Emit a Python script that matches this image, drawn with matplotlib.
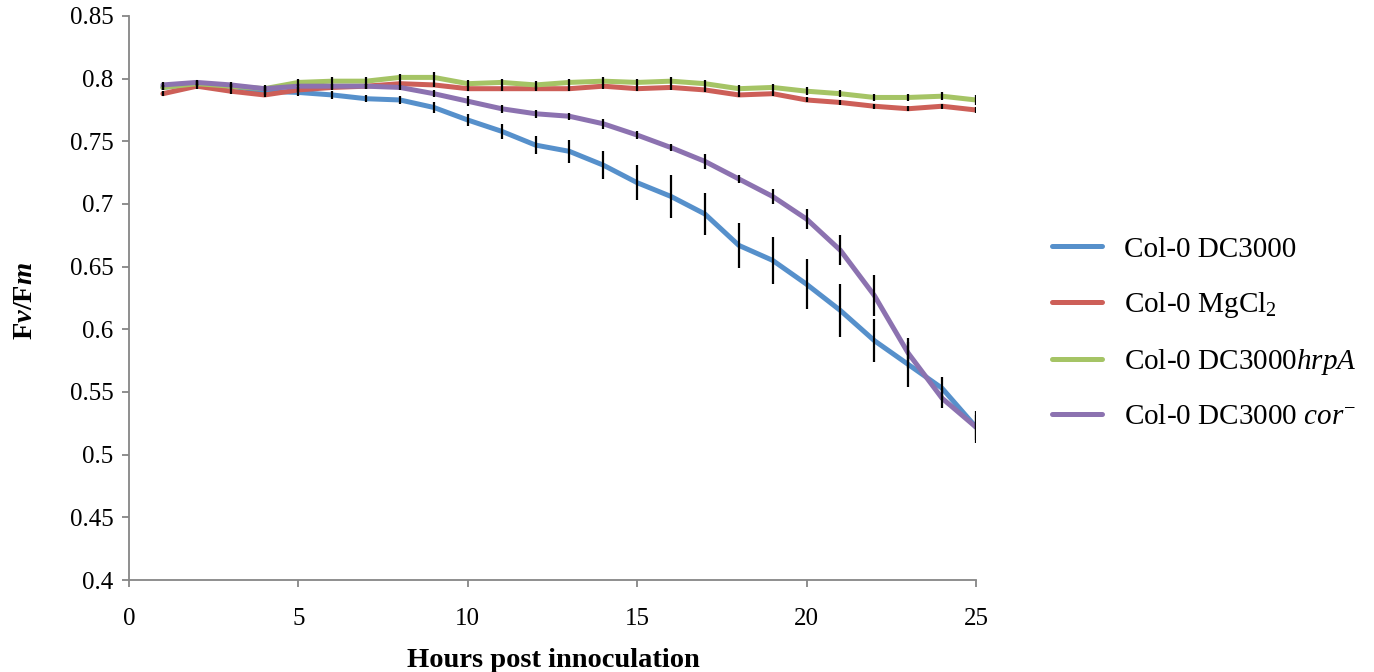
import matplotlib
matplotlib.use("Agg")
import matplotlib.pyplot as plt
from matplotlib.ticker import FuncFormatter, MultipleLocator

# data
hours = list(range(1, 26))
dc3000 = [0.793, 0.796, 0.794, 0.790, 0.789, 0.787, 0.784, 0.783, 0.777, 0.767,
          0.758, 0.747, 0.742, 0.731, 0.717, 0.706, 0.692, 0.667, 0.655, 0.636,
          0.615, 0.591, 0.572, 0.553, 0.522]
mgcl2 = [0.788, 0.794, 0.790, 0.787, 0.791, 0.793, 0.794, 0.796, 0.795, 0.792,
         0.792, 0.792, 0.792, 0.794, 0.792, 0.793, 0.791, 0.787, 0.788, 0.783,
         0.781, 0.778, 0.776, 0.778, 0.775]
hrpa = [0.793, 0.796, 0.794, 0.792, 0.797, 0.798, 0.798, 0.801, 0.801, 0.796,
        0.797, 0.795, 0.797, 0.798, 0.797, 0.798, 0.796, 0.792, 0.793, 0.790,
        0.788, 0.785, 0.785, 0.786, 0.783]
cor = [0.795, 0.797, 0.795, 0.792, 0.794, 0.794, 0.794, 0.793, 0.788, 0.782,
       0.776, 0.772, 0.770, 0.764, 0.755, 0.745, 0.734, 0.720, 0.706, 0.688,
       0.663, 0.627, 0.581, 0.545, 0.522]

dc3000_err = [0.002, 0.002, 0.002, 0.003, 0.003, 0.003, 0.003, 0.003, 0.004, 0.005,
              0.006, 0.007, 0.009, 0.011, 0.014, 0.017, 0.017, 0.018, 0.019, 0.020,
              0.021, 0.017, 0.018, 0.009, 0.013]
mgcl2_err = [0.002] * 25
hrpa_err = [0.002, 0.002, 0.002, 0.003, 0.003, 0.003, 0.003, 0.003, 0.004, 0.003,
            0.003, 0.003, 0.003, 0.003, 0.003, 0.003, 0.003, 0.003, 0.003, 0.003,
            0.003, 0.003, 0.003, 0.003, 0.004]
cor_err = [0.002, 0.002, 0.002, 0.002, 0.002, 0.002, 0.002, 0.002, 0.003, 0.004,
           0.003, 0.003, 0.003, 0.004, 0.003, 0.003, 0.006, 0.003, 0.006, 0.008,
           0.012, 0.016, 0.012, 0.008, 0.010]

labels = ["Col-0 DC3000", "Col-0 MgCl$_2$", r"Col-0 DC3000$\mathit{hrpA}$",
          r"Col-0 DC3000 $\mathit{cor}^{-}$"]
colors = ["#5690CB", "#CD5F58", "#A5C465", "#8C72B0"]

plt.rcParams['font.family'] = ['Liberation Serif', 'DejaVu Serif']
plt.rcParams['mathtext.fontset'] = 'custom'
plt.rcParams['mathtext.rm'] = 'Liberation Serif'
plt.rcParams['mathtext.it'] = 'Liberation Serif:italic'
plt.rcParams['mathtext.bf'] = 'Liberation Serif:bold'
plt.rcParams['mathtext.bfit'] = 'Liberation Serif:italic:bold'

fig = plt.figure(figsize=(13.74, 6.72), dpi=100)
ax = fig.add_axes([0.0939, 0.1369, 0.6164, 0.8393])

series = [dc3000, mgcl2, hrpa, cor]
errs = [dc3000_err, mgcl2_err, hrpa_err, cor_err]
for vals, err, col, lab in zip(series, errs, colors, labels):
    ax.plot(hours, vals, color=col, lw=3.6, label=lab, solid_capstyle='round', zorder=2)
for vals, err in zip(series, errs):
    ax.errorbar(hours, vals, yerr=err, fmt='none', ecolor='black', elinewidth=1.6,
                capsize=0, zorder=3)

ax.set_xlim(0, 25)
ax.set_ylim(0.4, 0.85)
ax.xaxis.set_major_locator(MultipleLocator(5))
ax.yaxis.set_major_locator(MultipleLocator(0.05))
ax.yaxis.set_major_formatter(FuncFormatter(lambda v, p: "%g" % round(v, 2)))

for s in ['top', 'right']:
    ax.spines[s].set_visible(False)
for s in ['left', 'bottom']:
    ax.spines[s].set_color('#868686')
    ax.spines[s].set_linewidth(1.3)
ax.tick_params(direction='out', length=5, width=1.3, color='#868686', labelsize=18)
ax.tick_params(axis='x', pad=15)
ax.tick_params(axis='y', pad=6)

ax.set_xlabel("Hours post innoculation", fontsize=20.5, fontweight='bold')
ax.xaxis.set_label_coords(0.5006, -0.121)
ax.set_ylabel(r"$\mathbf{F}\mathbfit{v}\mathbf{/F}\mathbfit{m}$", fontsize=20.5)
ax.yaxis.set_label_coords(-0.108, 0.495)

fig.legend(loc='center left', bbox_to_anchor=(0.766, 0.504), frameon=False,
           fontsize=21, handlelength=1.7, handletextpad=0.75, labelspacing=0.93,
           borderpad=0, borderaxespad=0)

fig.savefig("out.png", dpi=100)
